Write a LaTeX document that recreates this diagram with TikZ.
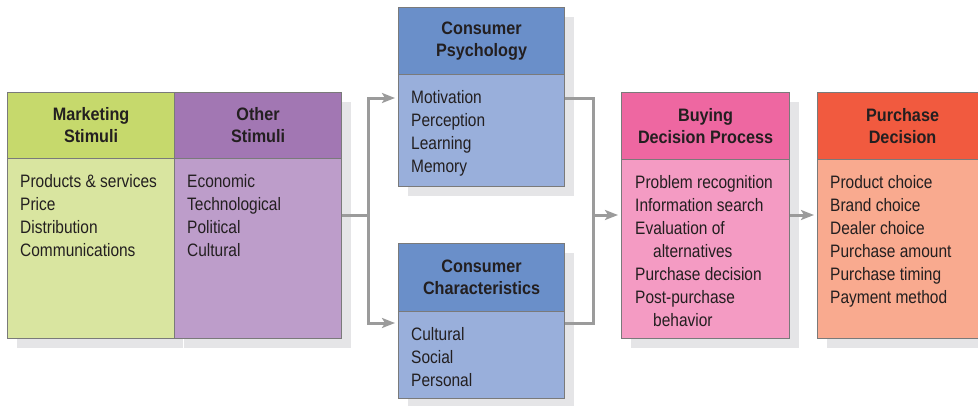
\documentclass[tikz,border=0pt]{standalone}
\usepackage{fontspec}
\setmainfont[FakeStretch=0.86,BoldFeatures={FakeStretch=0.9}]{Liberation Sans}
\usetikzlibrary{arrows.meta,calc,backgrounds}
\definecolor{mkH}{HTML}{C6D96C}
\definecolor{mkB}{HTML}{D9E5A0}
\definecolor{otH}{HTML}{A277B3}
\definecolor{otB}{HTML}{BD9DCA}
\definecolor{csH}{HTML}{6A8FC9}
\definecolor{csB}{HTML}{99AFDB}
\definecolor{byH}{HTML}{EE67A1}
\definecolor{byB}{HTML}{F49BC3}
\definecolor{puH}{HTML}{F15A3F}
\definecolor{puB}{HTML}{F9AA8F}
\definecolor{bordc}{HTML}{7A7A7A}
\definecolor{shadc}{HTML}{E5E5E7}
\definecolor{arrc}{HTML}{9B9B9B}
\definecolor{txtc}{HTML}{231F20}
\begin{document}
\begin{tikzpicture}[x=1pt,y=-1pt,
  box/.style={draw=bordc, line width=1.1pt, rectangle, inner sep=0pt, anchor=north west},
  hdr/.style={box, font=\bfseries\fontsize{18}{22}\selectfont, text=txtc, align=center},
  lst/.style={anchor=north west, font=\fontsize{18}{23}\selectfont, text=txtc, align=left, inner sep=0pt},
  conn/.style={draw=arrc, line width=3pt},
  arr/.style={conn, -{Stealth[length=13pt,width=10pt,inset=3pt]}, shorten >=3pt},
  shd/.style={fill=shadc, draw=white, line width=0.8pt}]
\clip (0,0) rectangle (978,405);
% boxes
\node[hdr, fill=mkH, minimum width=167pt, minimum height=66pt] (mkh) at (7,92) {Marketing\\Stimuli};
\node[box, fill=mkB, minimum width=167pt, minimum height=180pt] (mkb) at (7,158) {};
\node[hdr, fill=otH, minimum width=167pt, minimum height=66pt] (oth) at (174,92) {Other\\Stimuli};
\node[box, fill=otB, minimum width=167pt, minimum height=180pt] (otb) at (174,158) {};
\node[hdr, fill=csH, minimum width=166pt, minimum height=67pt] (cph) at (398,7) {Consumer\\Psychology};
\node[box, fill=csB, minimum width=166pt, minimum height=112pt] (cpb) at (398,74) {};
\node[hdr, fill=csH, minimum width=166pt, minimum height=68pt] (cch) at (398,243) {Consumer\\Characteristics};
\node[box, fill=csB, minimum width=166pt, minimum height=87pt] (ccb) at (398,311) {};
\node[hdr, fill=byH, minimum width=168pt, minimum height=67pt] (byh) at (621,92) {Buying\\Decision Process};
\node[box, fill=byB, minimum width=168pt, minimum height=179pt] (byb) at (621,159) {};
\node[hdr, fill=puH, minimum width=170pt, minimum height=67pt] (puh) at (817,92) {Purchase\\Decision};
\node[box, fill=puB, minimum width=170pt, minimum height=179pt] (pub) at (817,159) {};
% lists
\node[lst] (mkt) at ($(mkb.north west)+(13,16)$) {Products \& services\\Price\\Distribution\\Communications};
\node[lst] (ott) at ($(otb.north west)+(13,16)$) {Economic\\Technological\\Political\\Cultural};
\node[lst] (cpt) at ($(cpb.north west)+(13,16)$) {Motivation\\Perception\\Learning\\Memory};
\node[lst] (cct) at ($(ccb.north west)+(13,16)$) {Cultural\\Social\\Personal};
\node[lst] (byt) at ($(byb.north west)+(14,16)$) {Problem recognition\\Information search\\Evaluation of\\\hspace*{18pt}alternatives\\Purchase decision\\Post-purchase\\\hspace*{18pt}behavior};
\node[lst] (put) at ($(pub.north west)+(13,16)$) {Product choice\\Brand choice\\Dealer choice\\Purchase amount\\Purchase timing\\Payment method};
% shadows
\begin{scope}[on background layer]
\draw[shd] ($(mkh.north west)+(9,9)$) rectangle ($(mkb.south east)+(9,9)$);
\draw[shd] ($(oth.north west)+(9,9)$) rectangle ($(otb.south east)+(9,9)$);
\draw[shd] ($(cph.north west)+(9,9)$) rectangle ($(cpb.south east)+(9,9)$);
\draw[shd] ($(cch.north west)+(9,9)$) rectangle ($(ccb.south east)+(9,9)$);
\draw[shd] ($(byh.north west)+(9,9)$) rectangle ($(byb.south east)+(9,9)$);
\draw[shd] ($(puh.north west)+(9,9)$) rectangle ($(pub.south east)+(9,9)$);
\end{scope}
% connectors
\coordinate (j1) at (368,215);
\coordinate (j2) at (593,215);
\coordinate (cpin) at ($(cpb.north west)+(0,24)$);
\coordinate (ccin) at ($(ccb.north west)+(0,12)$);
\draw[conn] (otb.east |- j1) -- (j1);
\draw[arr] (j1) |- (cpin);
\draw[arr] (j1) |- (ccin);
\draw[conn] (cpb.east |- cpin) -| (j2);
\draw[conn] (ccb.east |- ccin) -| (j2);
\draw[arr] (j2) -- (j2 -| byb.west);
\draw[arr] (byb.east |- j2) -- (pub.west |- j2);
\end{tikzpicture}
\end{document}
